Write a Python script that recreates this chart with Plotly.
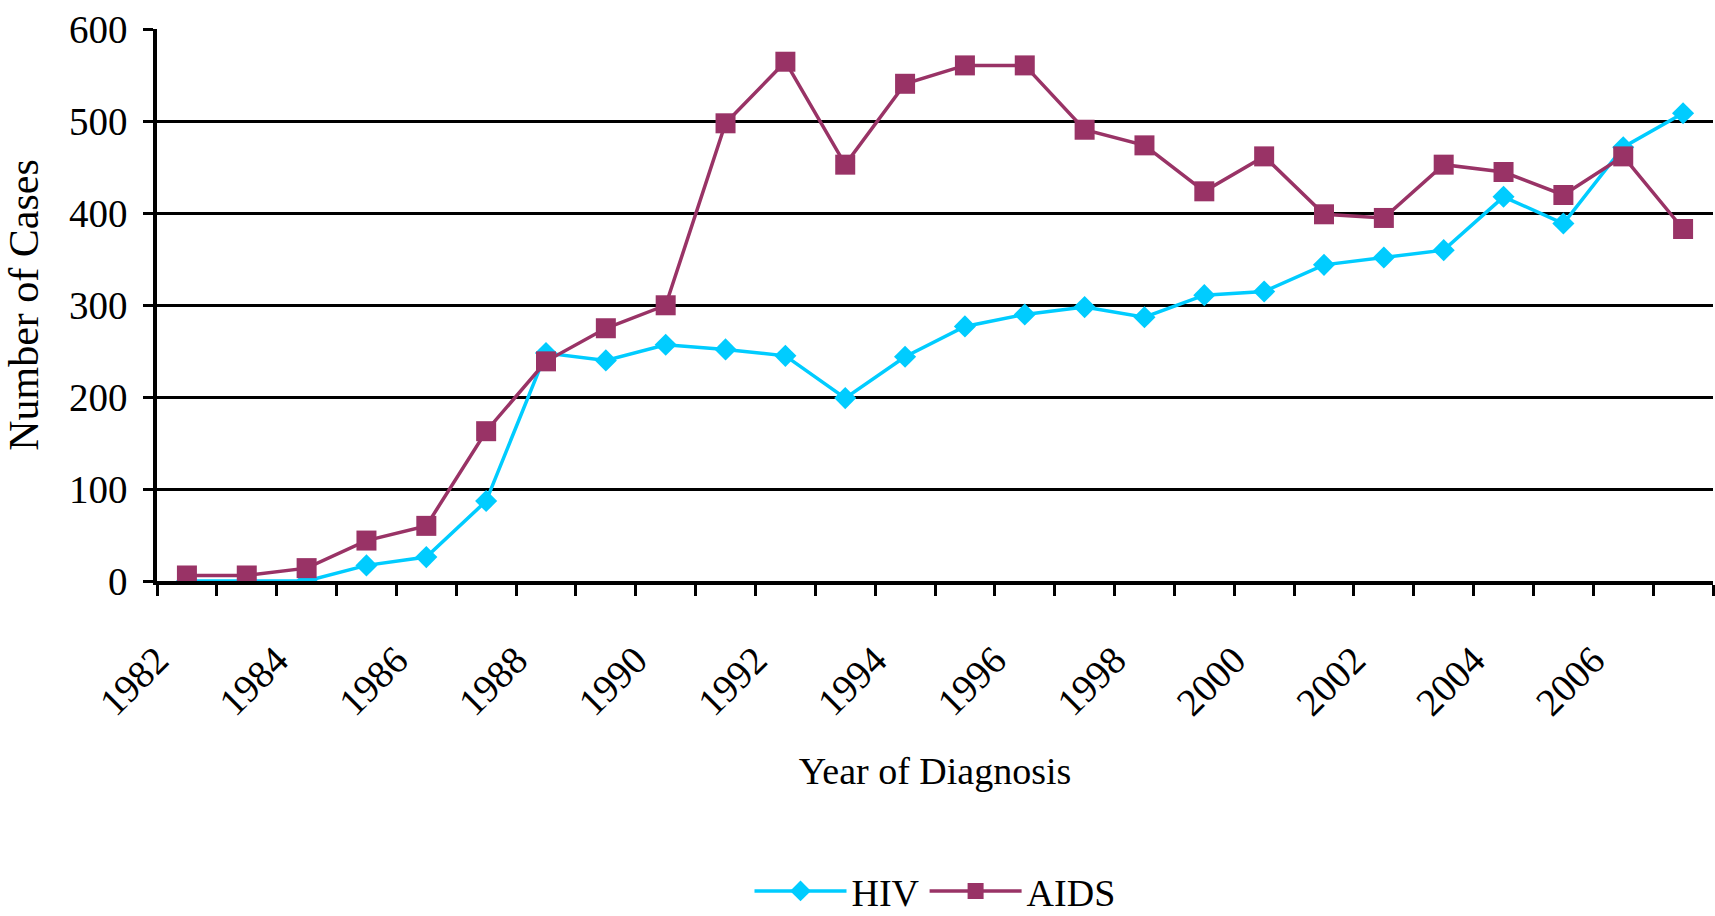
import plotly.graph_objects as go

years = list(range(1982, 2008))
hiv = [0, 0, 0, 17, 26, 87, 248, 240, 257, 252, 245, 199, 244, 277, 290, 298, 287,
       311, 315, 344, 352, 360, 418, 389, 472, 509]
aids = [6, 6, 14, 44, 60, 163, 239, 275, 300, 498, 565, 453, 541, 561, 561, 491, 474,
        424, 462, 399, 395, 453, 445, 420, 462, 383]
label_years = [1982, 1984, 1986, 1988, 1990, 1992, 1994, 1996, 1998, 2000, 2002, 2004, 2006]
y_ticks = [0, 100, 200, 300, 400, 500, 600]

FONT = "Liberation Serif, Times New Roman, serif"
HIV_COLOR = "#00CCFF"
AIDS_COLOR = "#993366"

# category boundaries carry the tick marks; labels sit at the start of their category
boundaries = [y - 0.5 for y in years] + [years[-1] + 0.5]
boundary_text = [str(y) if y in label_years else "" for y in years] + [""]

fig = go.Figure()
fig.add_trace(go.Scatter(
    x=years, y=hiv, name="HIV", mode="lines+markers",
    line=dict(color=HIV_COLOR, width=3.5),
    marker=dict(symbol="diamond", size=17, color=HIV_COLOR),
))
fig.add_trace(go.Scatter(
    x=years, y=aids, name="AIDS", mode="lines+markers",
    line=dict(color=AIDS_COLOR, width=3.5),
    marker=dict(symbol="square", size=20, color=AIDS_COLOR),
))

fig.update_layout(
    width=1715, height=916,
    margin=dict(l=157, r=2, t=29, b=335, autoexpand=False),
    paper_bgcolor="white", plot_bgcolor="white",
    font=dict(family=FONT, size=38, color="black"),
    showlegend=True,
    legend=dict(orientation="h", x=0.5, xanchor="center", y=-0.562, yanchor="middle",
                font=dict(family=FONT, size=38, color="black"),
                itemwidth=92, traceorder="normal", bgcolor="rgba(0,0,0,0)"),
    xaxis=dict(
        range=[years[0] - 0.5, years[-1] + 0.5],
        tickmode="array", tickvals=boundaries, ticktext=boundary_text,
        tickangle=-45, ticks="outside", ticklen=11, tickwidth=2.5, tickcolor="black",
        showgrid=False, zeroline=False,
        showline=True, linecolor="black", linewidth=3.5,
        tickfont=dict(family=FONT, size=39, color="black"),
        ticklabelstandoff=26,
        title=dict(text="Year of Diagnosis", font=dict(family=FONT, size=38, color="black"),
                   standoff=36),
        automargin=False,
    ),
    yaxis=dict(
        range=[0, 600.6], tickmode="array", tickvals=y_ticks,
        ticks="outside", ticklen=10, tickwidth=2.5, tickcolor="black",
        showgrid=True, gridcolor="black", gridwidth=3, zeroline=False,
        showline=True, linecolor="black", linewidth=3.5,
        tickfont=dict(family=FONT, size=39, color="black"),
        ticklabelstandoff=8,
        title=dict(text="Number of Cases", font=dict(family=FONT, size=42, color="black"),
                   standoff=18),
        automargin=False,
    ),
)

fig.write_html("out.html", config={"displayModeBar": False},
               post_script="document.body.style.margin='0';document.body.style.overflow='hidden';")
